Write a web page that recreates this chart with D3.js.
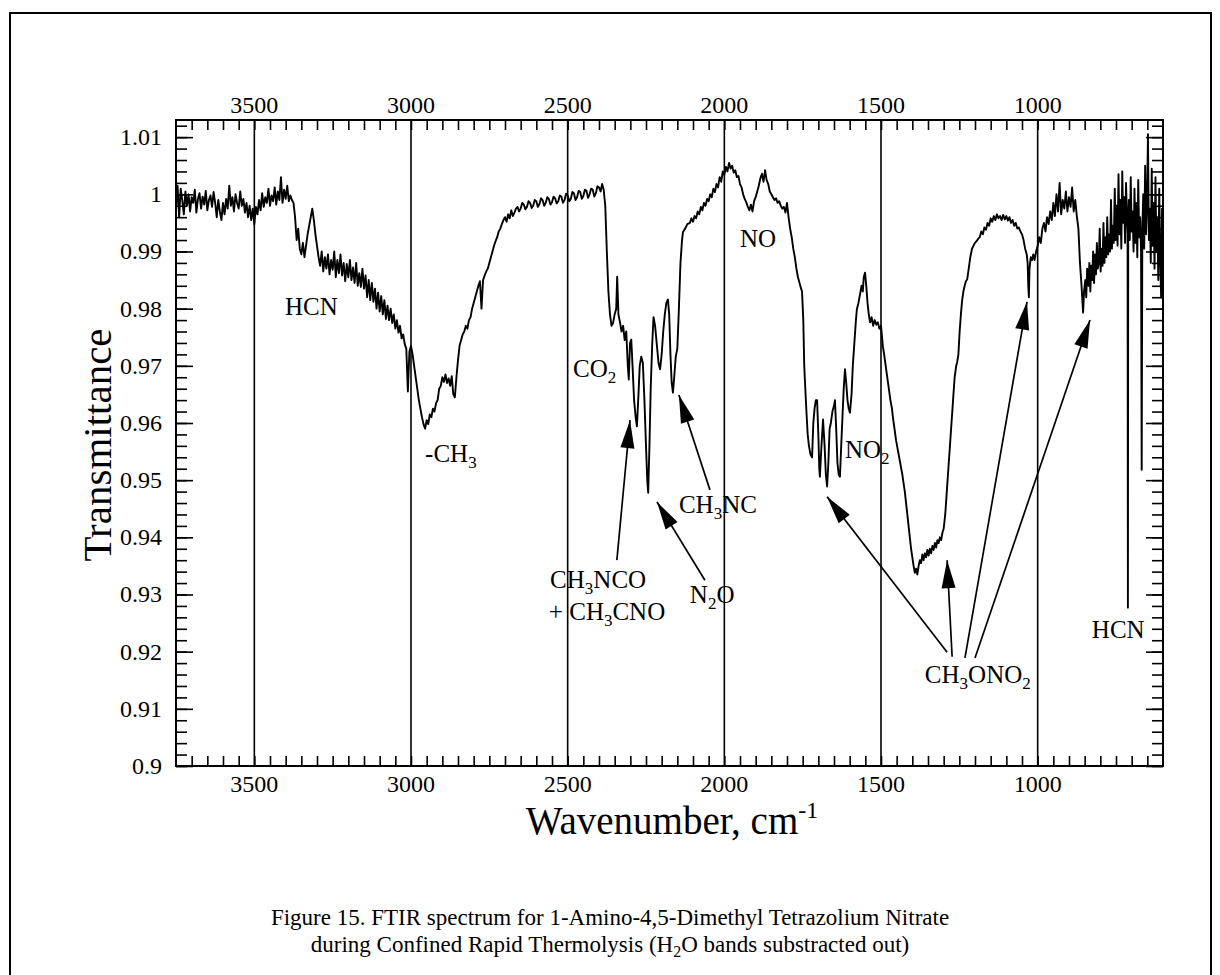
<!DOCTYPE html>
<html>
<head>
<meta charset="utf-8">
<script src="https://cdn.jsdelivr.net/npm/d3@7/dist/d3.min.js"></script>
<style>
  body { margin: 0; background: #fff; }
  text { font-family: "Liberation Serif", "Times New Roman", serif; fill: #000; }
</style>
</head>
<body>
<svg id="chart" width="1220" height="975"></svg>
<script>
// tick values
const xTicks = [3500, 3000, 2500, 2000, 1500, 1000];
const yTicks = [0.9, 0.91, 0.92, 0.93, 0.94, 0.95, 0.96, 0.97, 0.98, 0.99, 1, 1.01];
const yTickLabels = ["0.9", "0.91", "0.92", "0.93", "0.94", "0.95", "0.96", "0.97", "0.98", "0.99", "1", "1.01"];

// spectrum: [wavenumber cm-1, transmittance]
const spectrum = [
  [3750,.9975],[3745,1.0015],[3740,.9960],[3735,1.0010],[3730,.9990],[3725,.9965],[3720,1.0005],[3715,.9980],
  [3710,1.0000],[3705,.9970],[3700,.9995],[3695,.9985],[3690,1.0008],[3685,.9968],[3680,.9992],[3675,1.0002],
  [3670,.9975],[3665,.9996],[3660,.9982],[3655,1.0006],[3650,.9972],[3645,.9990],[3640,.9998],[3635,.9978],
  [3630,1.0004],[3625,.9985],[3620,.9960],[3615,.9990],[3610,.9970],[3605,.9955],[3600,.9985],[3595,.9965],
  [3590,.9992],[3585,.9975],[3580,1.0015],[3575,.9980],[3570,.9995],[3565,.9970],[3560,1.0000],[3555,.9985],
  [3550,.9975],[3545,1.0005],[3540,.9980],[3535,.9992],[3530,.9968],[3525,.9985],[3520,.9960],[3515,.9980],
  [3510,.9955],[3505,.9975],[3500,.9948],[3495,.9978],[3490,.9965],[3485,.9990],[3480,.9972],[3475,1.0002],
  [3470,.9978],[3465,.9995],[3460,.9985],[3455,1.0010],[3450,.9980],[3445,.9998],[3440,.9988],[3435,1.0012],
  [3430,.9982],[3425,1.0005],[3420,.9990],[3415,1.0030],[3410,.9985],[3405,1.0008],[3400,.9992],[3395,1.0015],
  [3390,.9988],[3385,.9998],[3380,.9990],[3375,.9985],[3370,.9960],[3365,.9920],[3360,.9940],[3355,.9905],
  [3350,.9895],[3345,.9915],[3340,.9890],[3335,.9910],[3330,.9930],[3325,.9945],[3320,.9960],[3315,.9975],
  [3310,.9955],[3305,.9930],[3300,.9910],[3295,.9890],[3290,.9875],[3285,.9900],[3280,.9865],[3275,.9890],
  [3270,.9870],[3265,.9895],[3260,.9860],[3255,.9885],[3250,.9868],[3245,.9900],[3240,.9855],[3235,.9885],
  [3230,.9862],[3225,.9895],[3220,.9858],[3215,.9880],[3210,.9848],[3205,.9878],[3200,.9855],[3195,.9885],
  [3190,.9850],[3185,.9872],[3180,.9845],[3175,.9880],[3170,.9840],[3165,.9862],[3160,.9838],[3155,.9870],
  [3150,.9835],[3145,.9858],[3140,.9820],[3135,.9850],[3130,.9815],[3125,.9845],[3120,.9812],[3115,.9835],
  [3110,.9800],[3105,.9828],[3100,.9795],[3095,.9822],[3090,.9790],[3085,.9815],[3080,.9782],[3075,.9805],
  [3070,.9780],[3065,.9800],[3060,.9775],[3055,.9790],[3050,.9765],[3045,.9780],[3040,.9758],[3035,.9770],
  [3030,.9748],[3025,.9755],[3020,.9738],[3015,.9730],[3010,.9655],[3005,.9725],[3000,.9735],[2995,.9720],
  [2990,.9700],[2985,.9680],[2980,.9660],[2975,.9640],[2970,.9625],[2965,.9610],[2960,.9598],[2955,.9590],
  [2950,.9605],[2945,.9598],[2940,.9615],[2935,.9610],[2930,.9625],[2925,.9620],[2920,.9635],[2915,.9640],
  [2910,.9660],[2905,.9665],[2900,.9680],[2895,.9672],[2890,.9685],[2885,.9670],[2880,.9678],[2875,.9665],
  [2870,.9682],[2865,.9650],[2860,.9645],[2855,.9680],[2850,.9710],[2845,.9735],[2840,.9745],[2835,.9755],
  [2830,.9760],[2825,.9770],[2820,.9765],[2815,.9780],[2810,.9785],[2805,.9800],[2800,.9810],[2795,.9820],
  [2790,.9830],[2785,.9840],[2780,.9848],[2775,.9800],[2770,.9850],[2765,.9858],[2760,.9865],[2755,.9870],
  [2750,.9880],[2745,.9890],[2740,.9900],[2735,.9910],[2730,.9918],[2725,.9925],[2720,.9935],[2715,.9940],
  [2710,.9948],[2705,.9955],[2700,.9960],[2695,.9952],[2690,.9965],[2685,.9958],[2680,.9972],[2675,.9962],
  [2670,.9968],[2665,.9975],[2660,.9978],[2655,.9970],[2650,.9975],[2645,.9985],[2640,.9982],[2635,.9974],
  [2630,.9978],[2625,.9988],[2620,.9985],[2615,.9976],[2610,.9980],[2605,.9990],[2600,.9988],[2595,.9978],
  [2590,.9983],[2585,.9993],[2580,.9990],[2575,.9980],[2570,.9985],[2565,.9995],[2560,.9992],[2555,.9982],
  [2550,.9986],[2545,.9996],[2540,.9993],[2535,.9984],[2530,.9988],[2525,.9998],[2520,.9996],[2515,.9985],
  [2510,.9990],[2505,1.0001],[2500,.9998],[2495,.9988],[2490,.9992],[2485,1.0004],[2480,1.0002],[2475,.9990],
  [2470,.9995],[2465,1.0006],[2460,1.0004],[2455,.9992],[2450,.9997],[2445,1.0008],[2440,1.0006],[2435,.9994],
  [2430,1.0000],[2425,1.0010],[2420,1.0008],[2415,.9996],[2410,1.0002],[2405,1.0014],[2400,1.0012],[2395,1.0005],
  [2390,1.0018],[2385,1.0008],[2380,.9980],[2375,.9900],[2370,.9830],[2365,.9790],[2360,.9770],[2355,.9775],
  [2350,.9790],[2345,.9800],[2342,.9856],[2338,.9790],[2333,.9776],[2328,.9760],[2323,.9770],[2318,.9745],
  [2313,.9760],[2308,.9700],[2305,.9676],[2301,.9740],[2297,.9746],[2293,.9700],[2288,.9640],[2283,.9610],
  [2279,.9594],[2274,.9650],[2270,.9700],[2265,.9716],[2260,.9705],[2255,.9640],[2250,.9560],[2246,.9500],
  [2243,.9478],[2239,.9560],[2235,.9660],[2230,.9740],[2226,.9785],[2221,.9770],[2216,.9740],[2210,.9705],
  [2205,.9694],[2200,.9720],[2195,.9760],[2190,.9790],[2185,.9810],[2180,.9816],[2176,.9790],[2172,.9720],
  [2168,.9670],[2164,.9653],[2160,.9680],[2155,.9716],[2150,.9730],[2145,.9800],[2140,.9880],[2135,.9920],
  [2132,.9934],[2125,.9940],[2118,.9948],[2110,.9950],[2105,.9958],[2100,.9952],[2095,.9962],[2090,.9958],
  [2085,.9970],[2080,.9965],[2075,.9978],[2070,.9972],[2065,.9985],[2060,.9980],[2055,.9992],[2050,.9988],
  [2045,1.0000],[2040,.9995],[2035,1.0010],[2030,1.0004],[2025,1.0018],[2020,1.0012],[2015,1.0030],[2010,1.0022],
  [2005,1.0040],[2000,1.0034],[1995,1.0048],[1990,1.0040],[1985,1.0055],[1980,1.0045],[1975,1.0050],[1970,1.0038],
  [1965,1.0042],[1960,1.0030],[1955,1.0032],[1950,1.0018],[1945,1.0012],[1940,1.0000],[1935,.9992],[1930,.9986],
  [1925,.9978],[1920,.9972],[1915,.9982],[1910,.9970],[1905,.9988],[1900,.9995],[1895,1.0005],[1890,1.0015],
  [1885,1.0028],[1880,1.0036],[1875,1.0022],[1870,1.0042],[1865,1.0025],[1860,1.0018],[1855,1.0005],[1850,1.0000],
  [1845,.9995],[1840,.9990],[1835,.9993],[1830,.9985],[1825,.9988],[1820,.9980],[1815,.9975],[1810,.9978],
  [1805,.9968],[1800,.9985],[1795,.9960],[1790,.9940],[1785,.9925],[1780,.9905],[1775,.9890],[1770,.9870],
  [1765,.9855],[1760,.9845],[1755,.9835],[1752,.9830],[1748,.9780],[1745,.9700],[1743,.9676],[1738,.9620],
  [1734,.9580],[1730,.9560],[1725,.9545],[1720,.9540],[1716,.9600],[1712,.9625],[1708,.9640],[1704,.9640],
  [1700,.9580],[1697,.9520],[1695,.9506],[1690,.9560],[1685,.9606],[1680,.9560],[1676,.9510],[1672,.9489],
  [1668,.9530],[1664,.9590],[1660,.9600],[1655,.9620],[1650,.9630],[1647,.9640],[1643,.9590],[1639,.9530],
  [1635,.9510],[1631,.9506],[1627,.9560],[1623,.9610],[1619,.9660],[1615,.9694],[1611,.9670],[1607,.9640],
  [1603,.9625],[1599,.9618],[1594,.9650],[1590,.9700],[1585,.9740],[1580,.9780],[1577,.9799],[1572,.9810],
  [1567,.9825],[1562,.9840],[1558,.9830],[1555,.9855],[1551,.9863],[1547,.9840],[1543,.9810],[1539,.9790],
  [1535,.9776],[1530,.9785],[1525,.9770],[1520,.9780],[1515,.9772],[1510,.9776],[1505,.9765],[1500,.9770],
  [1494,.9734],[1490,.9720],[1485,.9700],[1480,.9680],[1475,.9660],[1470,.9640],[1465,.9625],[1462,.9610],
  [1457,.9590],[1452,.9570],[1447,.9555],[1442,.9540],[1437,.9525],[1432,.9510],[1428,.9495],[1424,.9480],
  [1420,.9460],[1416,.9440],[1412,.9420],[1408,.9400],[1404,.9380],[1400,.9365],[1396,.9350],[1392,.9338],
  [1388,.9345],[1384,.9335],[1380,.9350],[1376,.9360],[1372,.9355],[1368,.9370],[1364,.9360],[1360,.9372],
  [1356,.9365],[1352,.9378],[1348,.9368],[1344,.9380],[1340,.9372],[1336,.9385],[1332,.9378],[1328,.9390],
  [1324,.9382],[1320,.9395],[1316,.9390],[1312,.9400],[1308,.9395],[1304,.9408],[1300,.9415],[1295,.9440],
  [1290,.9480],[1285,.9520],[1280,.9560],[1275,.9600],[1270,.9640],[1265,.9680],[1260,.9700],[1257,.9706],
  [1253,.9720],[1249,.9760],[1245,.9790],[1241,.9815],[1237,.9830],[1233,.9840],[1229,.9848],[1225,.9851],
  [1220,.9870],[1215,.9890],[1210,.9904],[1205,.9910],[1200,.9915],[1195,.9918],[1190,.9922],[1185,.9925],
  [1180,.9935],[1175,.9930],[1170,.9942],[1165,.9938],[1160,.9950],[1155,.9945],[1150,.9958],[1145,.9952],
  [1140,.9962],[1135,.9955],[1130,.9965],[1125,.9958],[1120,.9962],[1115,.9955],[1110,.9964],[1105,.9956],
  [1100,.9962],[1095,.9954],[1090,.9960],[1085,.9950],[1080,.9955],[1075,.9945],[1070,.9950],[1065,.9940],
  [1060,.9942],[1055,.9935],[1050,.9930],[1045,.9920],[1040,.9905],[1035,.9895],[1032,.9880],[1030,.9840],
  [1028,.9820],[1026,.9870],[1022,.9890],[1018,.9885],[1014,.9895],[1010,.9885],[1005,.9900],[1000,.9910],
  [995,.9925],[990,.9915],[985,.9940],[980,.9950],[975,.9935],[970,.9960],[965,.9948],[960,.9970],
  [955,.9955],[950,.9985],[945,.9962],[940,1.0000],[935,.9970],[930,1.0020],[925,.9965],[920,.9990],
  [915,.9975],[910,1.0005],[905,.9970],[900,.9995],[895,.9978],[890,1.0012],[885,.9970],[880,.9990],
  [875,.9962],[870,.9940],[865,.9880],[860,.9840],[855,.9793],[852,.9830],[848,.9850],[845,.9820],
  [842,.9870],[838,.9840],[835,.9880],[832,.9830],[829,.9875],[826,.9850],[823,.9900],[820,.9845],
  [817,.9895],[814,.9860],[811,.9915],[808,.9870],[805,.9880],[802,.9940],[799,.9865],[796,.9905],
  [793,.9875],[790,.9950],[787,.9880],[784,.9925],[781,.9890],[778,.9960],[775,.9895],[772,.9930],
  [769,.9900],[766,.9990],[763,.9905],[760,.9945],[757,.9915],[754,1.0010],[751,.9920],[748,.9980],
  [745,.9910],[742,1.0035],[739,.9930],[736,.9990],[733,.9905],[730,1.0040],[727,.9950],[724,.9995],
  [721,.9915],[718,1.0020],[715,.9960],[713,.9930],[712,.9277],[711,.9950],[709,.9990],[706,.9920],
  [703,1.0030],[700,.9935],[697,.9970],[694,.9900],[691,1.0010],[688,.9915],[685,.9985],[682,.9890],
  [679,1.0025],[676,.9925],[673,.9960],[670,.9900],[668,.9518],[666,.9940],[663,1.0000],[660,.9905],
  [657,1.0050],[654,.9930],[651,.9980],[648,1.0105],[645,.9920],[642,.9975],[639,.9880],[636,1.0045],
  [633,.9910],[630,.9985],[627,.9870],[624,1.0030],[621,.9900],[618,.9960],[615,.9850],[612,1.0010],
  [609,.9890],[606,.9820],[603,.9975],[600,.9860]
];

// band labels: text pieces, subscripts marked with "_"
const labelText = [
  ["HCN"], ["-CH", "_3"], ["CO", "_2"], ["NO"], ["NO", "_2"],
  ["CH", "_3", "NC"], ["N", "_2", "O"], ["CH", "_3", "NCO"],
  ["+ CH", "_3", "CNO"], ["CH", "_3", "ONO", "_2"], ["HCN"]
];
// label anchor (left, baseline) in wavenumber / transmittance
const labelAt = [
  [3402, 0.9789], [2955, 0.9532], [2483, 0.9680], [1950, 0.9908], [1615, 0.9539],
  [2145, 0.9443], [2110, 0.9285], [2556, 0.9311], [2560, 0.9255], [1360, 0.9145], [827, 0.9224]
];
// arrows: [tail wn, tail T, tip wn, tip T]
const arrows = [
  [2343, 0.9360, 2301, 0.9605],
  [2062, 0.9325, 2215, 0.9462],
  [2046, 0.9483, 2145, 0.9649],
  [1289, 0.9199, 1672, 0.9471],
  [1273, 0.9191, 1289, 0.9360],
  [1232, 0.9189, 1034, 0.9812],
  [1200, 0.9189, 833, 0.9780]
];

const svg = d3.select('#chart');
const pLeft = 176, pRight = 1163, pTop = 120, pBottom = 766;

const x = d3.scaleLinear().domain([3750, 600]).range([pLeft, pRight]);
const y = d3.scaleLinear().domain([0.9, 1.013]).range([pBottom, pTop]);

// page frame
svg.append('path').attr('d', 'M10,975 L10,13 L1211,13 L1211,975')
  .attr('fill', 'none').attr('stroke', '#000').attr('stroke-width', 2);

// minor ticks
const xMinor = d3.range(3700, 600, -50);
const yMinor = d3.range(0, 57).map(i => 0.9 + i * 0.002).filter(v => v < 1.013);

svg.append('g').attr('transform', `translate(0,${pBottom})`)
  .call(d3.axisBottom(x).tickValues(xMinor).tickSize(-10).tickSizeOuter(0).tickFormat(''));
svg.append('g').attr('transform', `translate(0,${pTop})`)
  .call(d3.axisTop(x).tickValues(xMinor).tickSize(-10).tickSizeOuter(0).tickFormat(''));
svg.append('g').attr('transform', `translate(${pLeft},0)`)
  .call(d3.axisLeft(y).tickValues(yMinor).tickSize(-11).tickSizeOuter(0).tickFormat(''));
svg.append('g').attr('transform', `translate(${pRight},0)`)
  .call(d3.axisRight(y).tickValues(yMinor).tickSize(-11).tickSizeOuter(0).tickFormat(''));
svg.append('g').attr('transform', `translate(${pLeft},0)`)
  .call(d3.axisLeft(y).tickValues(yTicks).tickSize(-17).tickSizeOuter(0).tickFormat(''));
svg.append('g').attr('transform', `translate(${pRight},0)`)
  .call(d3.axisRight(y).tickValues(yTicks).tickSize(-17).tickSizeOuter(0).tickFormat(''));
svg.selectAll('.tick line').attr('stroke', '#000').attr('stroke-width', 1.6);
svg.selectAll('.domain').remove();

// tick labels
const lab = svg.append('g').style('font-size', '24px');
lab.selectAll('.xb').data(xTicks).enter().append('text')
  .attr('x', d => x(d)).attr('y', 792).attr('text-anchor', 'middle').text(d => d);
lab.selectAll('.xt').data(xTicks).enter().append('text')
  .attr('x', d => x(d)).attr('y', 113).attr('text-anchor', 'middle').text(d => d);
lab.selectAll('.yl').data(yTicks).enter().append('text')
  .attr('x', 162).attr('y', d => y(d) + 8).attr('text-anchor', 'end')
  .text((d, i) => yTickLabels[i]);

// vertical grid lines at major wavenumbers
svg.append('g').selectAll('line').data(xTicks).enter().append('line')
  .attr('x1', d => x(d)).attr('x2', d => x(d)).attr('y1', pTop).attr('y2', pBottom)
  .attr('stroke', '#000').attr('stroke-width', 1.6);

// plot box
svg.append('rect').attr('x', pLeft).attr('y', pTop).attr('width', pRight - pLeft).attr('height', pBottom - pTop)
  .attr('fill', 'none').attr('stroke', '#000').attr('stroke-width', 2);

// spectrum
const line = d3.line().x(d => x(d[0])).y(d => y(d[1]));
svg.append('path').datum(spectrum).attr('d', line)
  .attr('fill', 'none').attr('stroke', '#000').attr('stroke-width', 1.9).attr('stroke-linejoin', 'round');

// arrows
svg.append('defs').append('marker').attr('id', 'head')
  .attr('markerUnits', 'userSpaceOnUse').attr('markerWidth', 32).attr('markerHeight', 18)
  .attr('viewBox', '-30 -9 32 18').attr('refX', 0).attr('refY', 0).attr('orient', 'auto')
  .append('path').attr('d', 'M0,0 L-28,-7 L-28,7 Z').attr('fill', '#000');
svg.append('g').selectAll('line').data(arrows).enter().append('line')
  .attr('x1', d => x(d[0])).attr('y1', d => y(d[1]))
  .attr('x2', d => x(d[2])).attr('y2', d => y(d[3]))
  .attr('stroke', '#000').attr('stroke-width', 1.7).attr('marker-end', 'url(#head)');

// band labels
const bands = svg.append('g').style('font-size', '25px');
labelText.forEach((parts, i) => {
  const t = bands.append('text').attr('x', x(labelAt[i][0])).attr('y', y(labelAt[i][1]));
  let sub = false;
  parts.forEach(s => {
    if (s.startsWith('_')) {
      t.append('tspan').attr('dy', 6).style('font-size', '17px').text(s.slice(1));
      sub = true;
    } else {
      t.append('tspan').attr('dy', sub ? -6 : 0).text(s);
      sub = false;
    }
  });
});

// axis titles
svg.append('text').attr('transform', 'translate(111,445) rotate(-90)')
  .attr('text-anchor', 'middle').style('font-size', '41px').text('Transmittance');
const xt = svg.append('text').attr('x', 672).attr('y', 834).attr('text-anchor', 'middle').style('font-size', '39px');
xt.append('tspan').text('Wavenumber, cm');
xt.append('tspan').attr('dy', -16).style('font-size', '24px').text('-1');

// caption
const cap = svg.append('g').style('font-size', '23px');
cap.append('text').attr('x', 610).attr('y', 925).attr('text-anchor', 'middle')
  .text('Figure 15.  FTIR spectrum for 1-Amino-4,5-Dimethyl Tetrazolium Nitrate');
const c2 = cap.append('text').attr('x', 610).attr('y', 952).attr('text-anchor', 'middle');
c2.append('tspan').text('during Confined Rapid Thermolysis (H');
c2.append('tspan').attr('dy', 5).style('font-size', '16px').text('2');
c2.append('tspan').attr('dy', -5).text('O bands substracted out)');
</script>
</body>
</html>
